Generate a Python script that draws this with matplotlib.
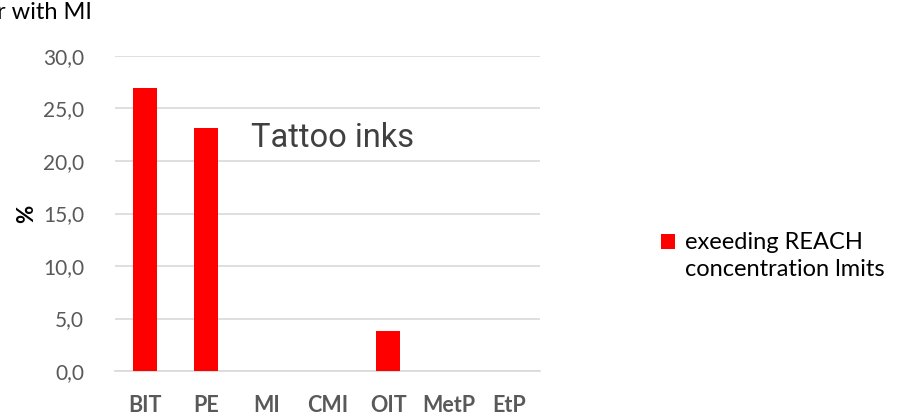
import matplotlib
matplotlib.use("Agg")
import matplotlib.pyplot as plt
from matplotlib.ticker import FuncFormatter

categories = ["BIT", "PE", "MI", "CMI", "OIT", "MetP", "EtP"]
values = [26.9, 23.1, 0, 0, 3.8, 0, 0]
series_name = "exeeding REACH\nconcentration lmits"

plt.rcParams['font.family'] = ['Lato', 'DejaVu Sans']

fig = plt.figure(figsize=(8.97, 4.17), dpi=100)
ax = fig.add_axes([0.128, 0.110, 0.474, 0.756])

x = range(len(categories))
ax.bar(x, values, width=0.4, color="#ff0000", label=series_name, zorder=3)

ax.set_xlim(-0.5, len(categories) - 0.5)
ax.set_ylim(0, 30)
ax.set_yticks([0, 5, 10, 15, 20, 25, 30])
ax.yaxis.set_major_formatter(FuncFormatter(lambda v, p: ("%.1f" % v).replace(".", ",")))
ax.set_xticks(list(x))
ax.set_xticklabels(categories, fontweight="bold")

ax.grid(axis="y", color="#d9d9d9", linewidth=1.2, zorder=0)
for s in ["top", "right", "left"]:
    ax.spines[s].set_visible(False)
ax.spines["bottom"].set_color("#d9d9d9")
ax.spines["bottom"].set_linewidth(1.2)
ax.tick_params(axis="y", length=0, colors="#595959", labelsize=15, pad=22)
ax.tick_params(axis="x", length=0, colors="#595959", labelsize=15.5, pad=17)

ax.set_ylabel("%", fontweight="bold", fontsize=16, color="black", labelpad=4)

ax.text(0.32, 0.712, "Tattoo inks", transform=ax.transAxes, fontsize=23.5,
        color="#404040", family=["Roboto", "DejaVu Sans"])
fig.text(0.102, 0.97, "r with MI", ha="right", va="center", fontsize=17, color="black")

leg = fig.legend(loc="center left", bbox_to_anchor=(0.724, 0.385), frameon=False,
                 fontsize=17, handlelength=0.6, handleheight=0.6, handletextpad=0.4,
                 borderpad=0)
for t in leg.get_texts():
    t.set_linespacing(1.35)
# marker sits next to the first line, as in the original
for h in leg.legend_handles:
    h.set_y(h.get_y() + 11)

fig.savefig("out.png", dpi=100)
